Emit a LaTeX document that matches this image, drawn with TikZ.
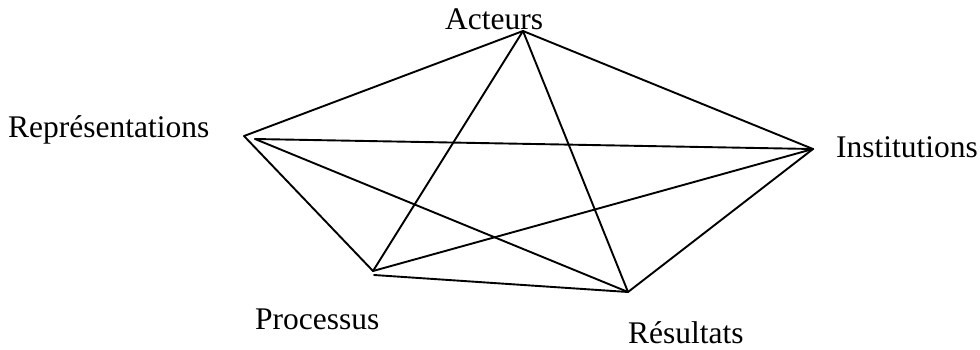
\documentclass[tikz,border=0pt]{standalone}
\usepackage{fontspec}
\setmainfont{Liberation Serif}
\begin{document}
\begin{tikzpicture}[x=1pt,y=-1pt,
  lbl/.style={anchor=base west,inner sep=0pt,font=\fontsize{31.5}{38}\selectfont},
  edge/.style={line width=1.9pt,line cap=round}]
\useasboundingbox (0,0) rectangle (980,349);
\node[lbl] (tA) at (445,29) {Acteurs};
\node[lbl] (tR) at (8,137) {Représentations};
\node[lbl] (tI) at (836,157) {Institutions};
\node[lbl] (tP) at (255,329) {Processus};
\node[lbl] (tS) at (628,343) {Résultats};
\coordinate (A) at (523,31);
\coordinate (R) at (244,136);
\coordinate (R2) at (255,139);
\coordinate (I) at (813,149);
\coordinate (P) at (373,271);
\coordinate (P2) at (374,275);
\coordinate (S) at (628,292);
\draw[edge] (A) -- (R);
\draw[edge] (A) -- (I);
\draw[edge] (A) -- (P);
\draw[edge] (A) -- (S);
\draw[edge] (R2) -- (I);
\draw[edge] (R) -- (P);
\draw[edge] (R2) -- (S);
\draw[edge] (I) -- (P);
\draw[edge] (I) -- (S);
\draw[edge] (P2) -- (S);
\end{tikzpicture}
\end{document}
